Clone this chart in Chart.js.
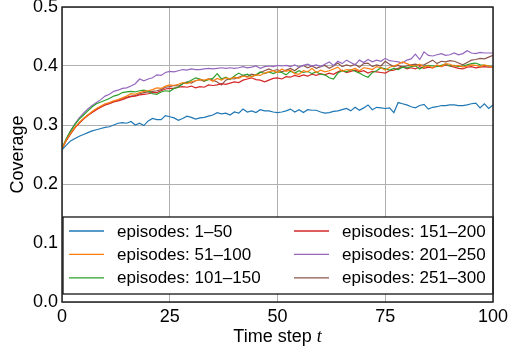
<!DOCTYPE html>
<html>
<head>
<meta charset="utf-8">
<script src="https://cdn.jsdelivr.net/npm/chart.js@4.4.0/dist/chart.umd.min.js"></script>
<style>
  html, body { margin: 0; padding: 0; background: #fff; }
  #wrap { width: 509px; height: 356px; }
</style>
</head>
<body>
<div id="wrap"><canvas id="coverageChart" width="509" height="356"></canvas></div>
<script>
const timeSteps = [0,1,2,3,4,5,6,7,8,9,10,11,12,13,14,15,16,17,18,19,20,21,22,23,24,25,26,27,28,29,30,31,32,33,34,35,36,37,38,39,40,41,42,43,44,45,46,47,48,49,50,51,52,53,54,55,56,57,58,59,60,61,62,63,64,65,66,67,68,69,70,71,72,73,74,75,76,77,78,79,80,81,82,83,84,85,86,87,88,89,90,91,92,93,94,95,96,97,98,99,100];
const xTickValues = [0, 25, 50, 75, 100];
const yTickValues = [0.0, 0.1, 0.2, 0.3, 0.4, 0.5];

const seriesLabels = ['episodes: 1–50', 'episodes: 51–100', 'episodes: 101–150', 'episodes: 151–200', 'episodes: 201–250', 'episodes: 251–300'];
const seriesColors = ['#1f77b4', '#ff7f0e', '#2ca02c', '#d62728', '#9467bd', '#8c564b'];

const ep1to50 = [
  0.258, 0.266, 0.273, 0.277, 0.281, 0.284, 0.287, 0.290, 0.292, 0.294, 0.296,
  0.297, 0.300, 0.303, 0.304, 0.303, 0.306, 0.300, 0.303, 0.299, 0.307,
  0.311, 0.309, 0.309, 0.316, 0.314, 0.312, 0.308, 0.311, 0.315, 0.313,
  0.310, 0.312, 0.313, 0.315, 0.317, 0.321, 0.319, 0.320, 0.317, 0.322,
  0.320, 0.327, 0.322, 0.324, 0.321, 0.326, 0.324, 0.324, 0.322, 0.321,
  0.322, 0.324, 0.327, 0.322, 0.326, 0.321, 0.326, 0.325, 0.325, 0.322,
  0.320, 0.321, 0.323, 0.324, 0.326, 0.328, 0.324, 0.330, 0.325, 0.329,
  0.334, 0.326, 0.330, 0.329, 0.328, 0.329, 0.321, 0.338, 0.336, 0.334,
  0.331, 0.329, 0.333, 0.335, 0.327, 0.330, 0.331, 0.333, 0.333, 0.334,
  0.334, 0.333, 0.333, 0.334, 0.336, 0.337, 0.329, 0.336, 0.328, 0.334
];
const ep51to100 = [
  0.260, 0.275, 0.286, 0.296, 0.304, 0.311, 0.317, 0.323, 0.328, 0.332, 0.336,
  0.338, 0.341, 0.343, 0.346, 0.349, 0.353, 0.352, 0.355, 0.357, 0.358,
  0.360, 0.363, 0.362, 0.366, 0.368, 0.367, 0.369, 0.372, 0.370, 0.373,
  0.375, 0.377, 0.376, 0.378, 0.374, 0.379, 0.376, 0.380, 0.378, 0.381,
  0.379, 0.383, 0.381, 0.382, 0.385, 0.384, 0.388, 0.390, 0.392, 0.389,
  0.395, 0.391, 0.393, 0.387, 0.386, 0.392, 0.390, 0.396, 0.389, 0.393,
  0.390, 0.392, 0.395, 0.398, 0.391, 0.394, 0.393, 0.396, 0.392, 0.397,
  0.396, 0.394, 0.399, 0.397, 0.393, 0.398, 0.400, 0.403, 0.407, 0.404,
  0.401, 0.400, 0.403, 0.398, 0.400, 0.397, 0.402, 0.399, 0.404, 0.403,
  0.400, 0.401, 0.398, 0.400, 0.402, 0.401, 0.399, 0.402, 0.400, 0.398
];
const ep101to150 = [
  0.260, 0.277, 0.290, 0.301, 0.310, 0.317, 0.324, 0.331, 0.336, 0.339, 0.342,
  0.345, 0.349, 0.351, 0.355, 0.356, 0.357, 0.356, 0.358, 0.359, 0.357,
  0.353, 0.352, 0.356, 0.358, 0.357, 0.362, 0.364, 0.370, 0.372, 0.376,
  0.380, 0.378, 0.375, 0.377, 0.379, 0.387, 0.378, 0.381, 0.377, 0.383,
  0.388, 0.384, 0.386, 0.382, 0.385, 0.390, 0.387, 0.390, 0.387, 0.390,
  0.389, 0.385, 0.391, 0.388, 0.392, 0.389, 0.391, 0.387, 0.390, 0.386,
  0.385, 0.380, 0.378, 0.388, 0.392, 0.390, 0.394, 0.391, 0.388, 0.384,
  0.381, 0.389, 0.392, 0.397, 0.395, 0.393, 0.396, 0.394, 0.398, 0.397,
  0.399, 0.400, 0.395, 0.399, 0.401, 0.400, 0.399, 0.401, 0.403, 0.400,
  0.401, 0.399, 0.400, 0.402, 0.404, 0.405, 0.402, 0.401, 0.400, 0.399
];
const ep151to200 = [
  0.260, 0.274, 0.285, 0.295, 0.303, 0.310, 0.316, 0.321, 0.326, 0.330, 0.334,
  0.336, 0.339, 0.341, 0.343, 0.346, 0.348, 0.349, 0.351, 0.352, 0.353,
  0.355, 0.355, 0.358, 0.361, 0.362, 0.362, 0.364, 0.365, 0.364, 0.366,
  0.363, 0.365, 0.364, 0.368, 0.367, 0.368, 0.370, 0.369, 0.371, 0.373,
  0.372, 0.376, 0.378, 0.380, 0.377, 0.376, 0.373, 0.376, 0.379, 0.380,
  0.378, 0.382, 0.381, 0.384, 0.382, 0.385, 0.383, 0.386, 0.384, 0.387,
  0.385, 0.388, 0.386, 0.390, 0.393, 0.389, 0.391, 0.393, 0.390, 0.392,
  0.388, 0.391, 0.390, 0.389, 0.388, 0.392, 0.393, 0.396, 0.399, 0.395,
  0.397, 0.395, 0.399, 0.396, 0.398, 0.397, 0.400, 0.399, 0.402, 0.400,
  0.398, 0.396, 0.395, 0.398, 0.399, 0.397, 0.398, 0.399, 0.398, 0.398
];
const ep201to250 = [
  0.260, 0.276, 0.290, 0.302, 0.312, 0.320, 0.327, 0.333, 0.338, 0.343, 0.349,
  0.352, 0.357, 0.359, 0.362, 0.363, 0.366, 0.370, 0.378, 0.375, 0.378,
  0.380, 0.385, 0.384, 0.389, 0.391, 0.390, 0.392, 0.394, 0.393, 0.395,
  0.394, 0.394, 0.395, 0.396, 0.395, 0.396, 0.397, 0.396, 0.397, 0.396,
  0.397, 0.399, 0.397, 0.398, 0.400, 0.396, 0.399, 0.400, 0.399, 0.401,
  0.400, 0.401, 0.399, 0.402, 0.398, 0.401, 0.403, 0.400, 0.402, 0.399,
  0.403, 0.407, 0.401, 0.408, 0.404, 0.410, 0.406, 0.402, 0.410, 0.406,
  0.411, 0.407, 0.410, 0.408, 0.413, 0.409, 0.408, 0.407, 0.405, 0.410,
  0.412, 0.420, 0.411, 0.424, 0.418, 0.417, 0.419, 0.421, 0.418, 0.419,
  0.422, 0.419, 0.421, 0.426, 0.422, 0.421, 0.423, 0.422, 0.422, 0.422
];
const ep251to300 = [
  0.260, 0.274, 0.286, 0.296, 0.304, 0.311, 0.317, 0.322, 0.327, 0.331, 0.334,
  0.337, 0.340, 0.342, 0.345, 0.347, 0.349, 0.350, 0.353, 0.355, 0.356,
  0.357, 0.358, 0.360, 0.364, 0.365, 0.367, 0.366, 0.370, 0.373, 0.371,
  0.375, 0.377, 0.374, 0.378, 0.376, 0.373, 0.368, 0.376, 0.379, 0.378,
  0.381, 0.384, 0.382, 0.386, 0.384, 0.389, 0.392, 0.395, 0.392, 0.394,
  0.390, 0.393, 0.396, 0.392, 0.398, 0.401, 0.397, 0.400, 0.396, 0.399,
  0.401, 0.396, 0.400, 0.405, 0.399, 0.402, 0.400, 0.403, 0.398, 0.404,
  0.405, 0.399, 0.402, 0.400, 0.408, 0.403, 0.399, 0.401, 0.398, 0.400,
  0.402, 0.403, 0.401, 0.402, 0.406, 0.410, 0.404, 0.408, 0.407, 0.409,
  0.408, 0.405, 0.402, 0.406, 0.410, 0.411, 0.413, 0.412, 0.415, 0.418
];

const seriesValues = [ep1to50, ep51to100, ep101to150, ep151to200, ep201to250, ep251to300];

const sansFont = '"Liberation Sans", Arial, Helvetica, sans-serif';

// boxed two-column legend inside the plot, filled column by column
const insideLegend = {
  id: 'insideLegend',
  afterDatasetsDraw(chart) {
    const { ctx, chartArea: a } = chart;
    const top = a.bottom - 85, bottom = a.bottom - 8;
    const left = a.left + 1, right = a.right;
    ctx.save();
    ctx.fillStyle = '#fff';
    ctx.fillRect(left, top, right - left, bottom - top);
    ctx.strokeStyle = '#000';
    ctx.lineWidth = 1.2;
    ctx.strokeRect(left, top, right - left, bottom - top);
    ctx.font = '17px ' + sansFont;
    ctx.textBaseline = 'middle';
    ctx.fillStyle = '#000';
    chart.data.datasets.forEach((ds, i) => {
      const col = Math.floor(i / 3), row = i % 3;
      const lx = a.left + 7 + col * 225;
      const ly = top + 14 + row * 23.4;
      ctx.strokeStyle = ds.borderColor;
      ctx.lineWidth = 1.3;
      ctx.beginPath();
      ctx.moveTo(lx, ly);
      ctx.lineTo(lx + 35, ly);
      ctx.stroke();
      ctx.fillText(ds.label, lx + 48, ly + 1);
    });
    ctx.restore();
  },
  afterDraw(chart) {
    const { ctx, chartArea: a } = chart;
    ctx.save();
    ctx.strokeStyle = '#222';
    ctx.lineWidth = 1.5;
    ctx.strokeRect(a.left, a.top, a.right - a.left, a.bottom - a.top);
    // x axis title with math-italic t
    const part1 = 'Time step ';
    ctx.font = '18px ' + sansFont;
    const w1 = ctx.measureText(part1).width;
    ctx.font = 'italic 18px "Liberation Serif", "DejaVu Serif", serif';
    const w2 = ctx.measureText('t').width;
    const cx = (a.left + a.right) / 2;
    const x0 = cx - (w1 + w2) / 2;
    const by = a.bottom + 40;
    ctx.textBaseline = 'alphabetic';
    ctx.fillStyle = '#000';
    ctx.font = '18px ' + sansFont;
    ctx.fillText(part1, x0, by);
    ctx.font = 'italic 18px "Liberation Serif", "DejaVu Serif", serif';
    ctx.fillText('t', x0 + w1, by);
    ctx.restore();
  }
};

const ctx = document.getElementById('coverageChart').getContext('2d');
new Chart(ctx, {
  type: 'line',
  data: {
    datasets: seriesValues.map((vals, i) => ({
      label: seriesLabels[i],
      data: vals.map((v, k) => ({ x: timeSteps[k], y: v })),
      borderColor: seriesColors[i],
      backgroundColor: seriesColors[i],
      borderWidth: 1.2,
      pointRadius: 0,
      tension: 0,
      fill: false
    }))
  },
  options: {
    responsive: false,
    animation: false,
    devicePixelRatio: 1,
    layout: { padding: { top: 7, right: 16, left: 0, bottom: 0 } },
    plugins: {
      legend: { display: false },
      tooltip: { enabled: false }
    },
    scales: {
      x: {
        type: 'linear',
        min: 0,
        max: 100,
        afterFit: s => { s.height = 54; s.paddingLeft = 0; s.paddingRight = 0; },
        afterBuildTicks: s => { s.ticks = xTickValues.map(v => ({ value: v })); },
        ticks: { color: '#000', font: { family: sansFont, size: 18 }, padding: 4, maxRotation: 0 },
        grid: { color: '#b0b0b0', lineWidth: 1, drawTicks: false },
        border: { display: false },
        title: { display: false }
      },
      y: {
        min: 0,
        max: 0.5,
        afterFit: s => { s.width = 62; s.paddingTop = 0; s.paddingBottom = 0; },
        afterBuildTicks: s => { s.ticks = yTickValues.map(v => ({ value: v })); },
        ticks: { color: '#000', font: { family: sansFont, size: 18 }, padding: 4, callback: v => v.toFixed(1) },
        grid: { color: '#b0b0b0', lineWidth: 1, drawTicks: false },
        border: { display: false },
        title: { display: true, text: 'Coverage', color: '#000', font: { family: sansFont, size: 18 }, padding: { top: 7, bottom: 0 } }
      }
    }
  },
  plugins: [insideLegend]
});
</script>
</body>
</html>
